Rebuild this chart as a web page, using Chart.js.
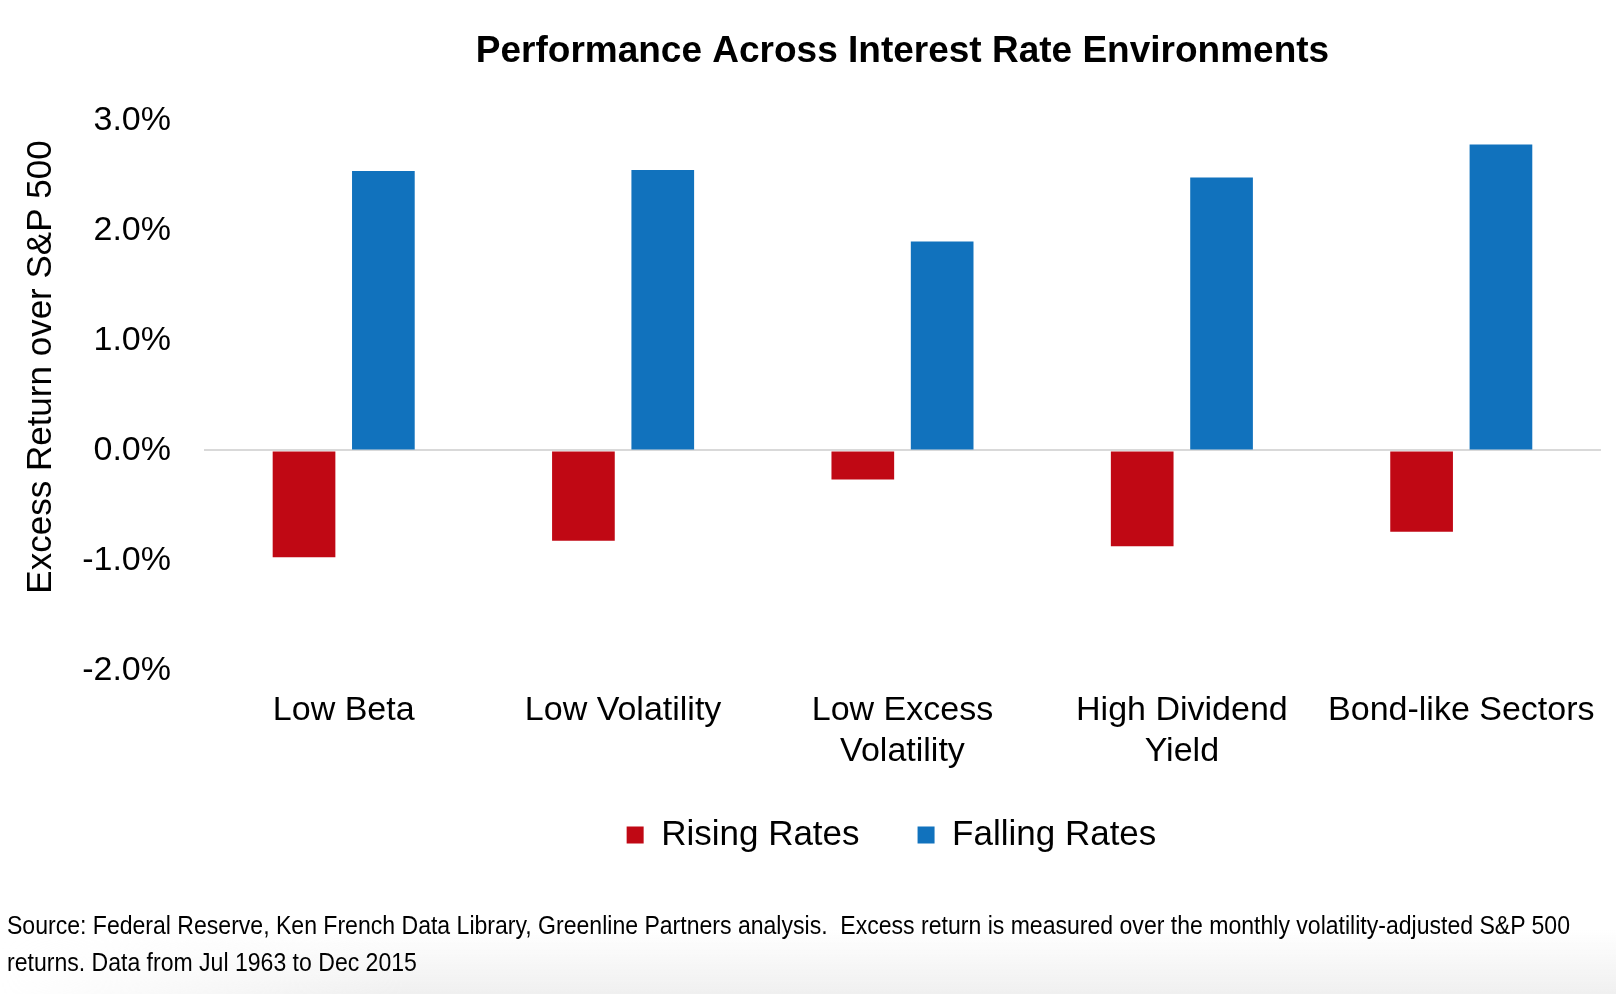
<!DOCTYPE html>
<html>
<head>
<meta charset="utf-8">
<script src="https://cdn.jsdelivr.net/npm/chart.js@4/dist/chart.umd.min.js"></script>
<style>
  html, body { margin: 0; padding: 0; background: #ffffff; }
  #wrap { position: relative; width: 1616px; height: 994px; overflow: hidden; background: #ffffff; }
  #shade { position: absolute; left: 0; top: 930px; width: 1616px; height: 64px;
           background: linear-gradient(to bottom, rgba(240,240,240,0) 0%, rgba(238,238,238,0.9) 100%);
           -webkit-mask-image: linear-gradient(to right, rgba(0,0,0,0) 0%, rgba(0,0,0,1) 25%);
           mask-image: linear-gradient(to right, rgba(0,0,0,0) 0%, rgba(0,0,0,1) 25%); }
  #chartBox { position: absolute; left: 0; top: 0; width: 1616px; height: 994px; }
  .note { position: absolute; left: 7px; font-family: "Liberation Sans", Arial, sans-serif;
          font-size: 26px; color: #000; white-space: nowrap; transform-origin: 0 50%; line-height: 30px; }
</style>
</head>
<body>
<div id="wrap">
  <div id="shade"></div>
  <div id="chartBox"><canvas id="c"></canvas></div>
  <div class="note" id="n1" style="top:910px">Source: Federal Reserve, Ken French Data Library, Greenline Partners analysis.&nbsp; Excess return is measured over the monthly volatility-adjusted S&amp;P 500</div>
  <div class="note" id="n2" style="top:947px">returns. Data from Jul 1963 to Dec 2015</div>
</div>
<script>
const categories = [["Low Beta"], ["Low Volatility"], ["Low Excess", "Volatility"], ["High Dividend", "Yield"], ["Bond-like Sectors"]];
const risingRates = [-0.97, -0.82, -0.265, -0.87, -0.74];
const fallingRates = [2.54, 2.55, 1.90, 2.48, 2.78];
const seriesNames = ["Rising Rates", "Falling Rates"];
const yTicks = [-2, -1, 0, 1, 2, 3];
const chartTitle = "Performance Across Interest Rate Environments";
const yTitle = "Excess Return over S&P 500";

const FONT = "'Liberation Sans', Arial, sans-serif";

const yTitlePlugin = {
  id: 'yTitlePlugin',
  afterLayout(chart) {
    // place the legend row as in the reference (slightly left and up)
    const lg = chart.legend;
    if (lg) { lg.left -= 11; lg.right -= 11; lg.top -= 15; lg.bottom -= 15; }
  },
  afterDraw(chart) {
    const ctx = chart.ctx;
    ctx.save();
    ctx.translate(41, 367);
    ctx.rotate(-Math.PI / 2);
    ctx.font = "35px " + FONT;
    ctx.fillStyle = "#000";
    ctx.textAlign = "center";
    ctx.textBaseline = "middle";
    ctx.fillText(yTitle, 0, 0);
    ctx.restore();
  }
};

Chart.defaults.font.family = FONT;
Chart.defaults.color = "#000";

new Chart(document.getElementById('c'), {
  type: 'bar',
  data: {
    labels: categories,
    datasets: [
      { label: seriesNames[0], data: risingRates, backgroundColor: '#C00814', borderWidth: 0,
        categoryPercentage: 0.568, barPercentage: 0.79 },
      { label: seriesNames[1], data: fallingRates, backgroundColor: '#1172BD', borderWidth: 0,
        categoryPercentage: 0.568, barPercentage: 0.79 }
    ]
  },
  options: {
    responsive: true,
    maintainAspectRatio: false,
    animation: false,
    devicePixelRatio: 1,
    layout: { padding: { left: 0, right: 12, top: 0, bottom: 116.5 } },
    plugins: {
      tooltip: { enabled: false },
      title: {
        display: true, text: chartTitle, fullSize: false,
        font: { size: 37, weight: 'bold', family: FONT }, color: '#000',
        padding: { top: 30, bottom: 46 }
      },
      legend: {
        display: true, position: 'bottom', fullSize: false,
        labels: { boxWidth: 17, boxHeight: 17, padding: 58, color: '#000',
                  font: { size: 35, family: FONT } }
      }
    },
    scales: {
      x: {
        afterFit(scale) { scale.height = 104; },
        grid: { display: false, drawTicks: false },
        border: { display: false },
        ticks: { padding: 20, font: { size: 34, family: FONT }, color: '#000', maxRotation: 0, autoSkip: false }
      },
      y: {
        min: -2, max: 3,
        afterFit(scale) { scale.width = 204; },
        afterBuildTicks(scale) { scale.ticks = yTicks.map(v => ({ value: v })); },
        grid: {
          drawTicks: false,
          color: ctx => (ctx.tick && ctx.tick.value === 0) ? '#D9D9D9' : 'rgba(0,0,0,0)',
          lineWidth: 2
        },
        border: { display: false },
        ticks: {
          padding: 33, font: { size: 34, family: FONT }, color: '#000',
          callback: v => v.toFixed(1) + '%'
        }
      }
    }
  },
  plugins: [yTitlePlugin]
});

// fit the footnote to the reference's condensed width
(function () {
  const n1 = document.getElementById('n1');
  const n2 = document.getElementById('n2');
  const target = 1563;
  const w = n1.getBoundingClientRect().width;
  const s = target / w;
  n1.style.transform = 'scaleX(' + s + ')';
  n2.style.transform = 'scaleX(' + s + ')';
})();
</script>
</body>
</html>
